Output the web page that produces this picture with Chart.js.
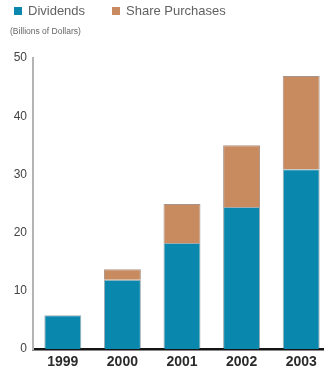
<!DOCTYPE html>
<html>
<head>
<meta charset="utf-8">
<script src="https://cdn.jsdelivr.net/npm/chart.js@4"></script>
<style>
  html, body { margin: 0; padding: 0; background: #fff; overflow: hidden; }
  #wrap { position: relative; width: 324px; height: 374px; overflow: hidden; }
  #box { position: absolute; left: 0; top: 0; width: 340px; height: 374px; }
  .key { position: absolute; top: 3px; font: 13px "Liberation Sans", Arial, sans-serif; color: #626262; white-space: nowrap; }
  .key i { display: inline-block; width: 8px; height: 8px; margin-right: 6px; vertical-align: 0px; }
  #unit { position: absolute; left: 10px; top: 26px; font: 8.5px "Liberation Sans", Arial, sans-serif; color: #666; }
</style>
</head>
<body>
<div id="wrap">
  <div id="box"><canvas id="returnChart"></canvas></div>
  <div class="key" style="left:14px"><i style="background:#0a87ac"></i>Dividends</div>
  <div class="key" style="left:112px"><i style="background:#c88a5f"></i>Share Purchases</div>
  <div id="unit">(Billions of Dollars)</div>
</div>

<script>
// ── DATA ──────────────────────────────────────────────
const years          = ['1999', '2000', '2001', '2002', '2003'];
const dividends      = [5.8, 11.9, 18.2, 24.4, 30.9];
const sharePurchases = [null, 1.8, 6.7, 10.6, 16.0];
const yTicks         = [0, 10, 20, 30, 40, 50];

const BLUE = '#0a87ac';
const TAN  = '#c88a5f';

// ── BUILD: Stacked bar chart ──────────────────────────
function buildChart() {
  const ctx = document.getElementById('returnChart').getContext('2d');

  new Chart(ctx, {
    type: 'bar',
    data: {
      labels: years,
      datasets: [
        {
          label: 'Dividends',
          data: dividends,
          backgroundColor: BLUE,
          borderColor: 'rgba(40,70,85,0.45)',
          borderWidth: 1,
          borderSkipped: 'bottom'
        },
        {
          label: 'Share Purchases',
          data: sharePurchases,
          backgroundColor: TAN,
          borderColor: 'rgba(110,75,55,0.6)',
          borderWidth: 1,
          borderSkipped: 'bottom'
        }
      ]
    },
    options: {
      responsive: true,
      maintainAspectRatio: false,
      animation: false,
      layout: { padding: { top: 58, right: 9, left: 0, bottom: 0 } },
      datasets: { bar: { barPercentage: 0.62, categoryPercentage: 1 } },
      plugins: { legend: { display: false }, tooltip: { enabled: false } },
      scales: {
        x: {
          stacked: true,
          grid: { display: false, drawTicks: false },
          border: { display: true, color: '#141414', width: 2.5 },
          ticks: {
            color: '#2b2b2b',
            padding: 5,
            font: { family: 'Liberation Sans', size: 14, weight: 'bold' }
          },
          afterFit: s => { s.height = 25; }
        },
        y: {
          stacked: true,
          min: 0,
          max: 50,
          grid: { display: false, drawTicks: false },
          border: { display: true, color: '#b4b4b4', width: 2 },
          afterBuildTicks: s => { s.ticks = yTicks.map(v => ({ value: v })); },
          ticks: {
            color: '#444',
            padding: 6,
            font: { family: 'Liberation Sans', size: 12 }
          },
          afterFit: s => { s.width = 33; }
        }
      }
    }
  });
}

window.onload = buildChart;
</script>
</body>
</html>
